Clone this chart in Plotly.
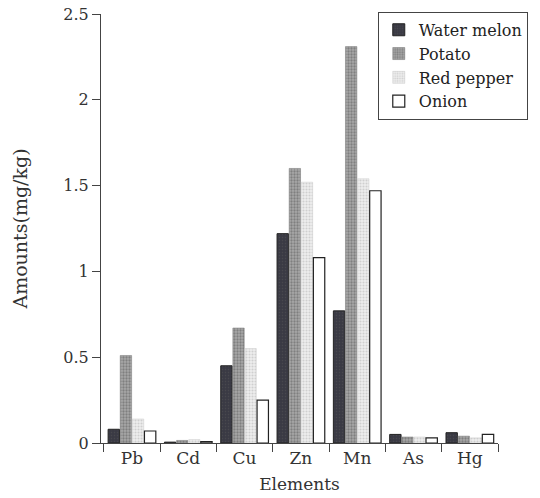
import plotly.graph_objects as go

elements = ["Pb", "Cd", "Cu", "Zn", "Mn", "As", "Hg"]
water_melon = [0.08, 0.005, 0.45, 1.22, 0.77, 0.05, 0.06]
potato = [0.51, 0.015, 0.67, 1.60, 2.31, 0.035, 0.04]
red_pepper = [0.14, 0.02, 0.55, 1.52, 1.54, 0.035, 0.03]
onion = [0.07, 0.008, 0.25, 1.08, 1.47, 0.03, 0.05]

y_ticks = [0, 0.5, 1, 1.5, 2, 2.5]
y_ticklabels = ["0", "0.5", "1", "1.5", "2", "2.5"]

FONT = "DejaVu Serif"

fig = go.Figure()
fig.add_trace(go.Bar(
    x=elements, y=water_melon, name="Water melon",
    marker=dict(color="#3a3a44", line=dict(color="#222", width=1),
                pattern=dict(shape=".", fgcolor="#555", size=3, solidity=0.2)),
))
fig.add_trace(go.Bar(
    x=elements, y=potato, name="Potato",
    marker=dict(color="#8c8c8c", line=dict(color="#777", width=0.5),
                pattern=dict(shape=".", fgcolor="#555", bgcolor="#a8a8a8", size=3, solidity=0.45)),
))
fig.add_trace(go.Bar(
    x=elements, y=red_pepper, name="Red pepper",
    marker=dict(color="#dcdcdc", line=dict(color="#ccc", width=0.5),
                pattern=dict(shape=".", fgcolor="#b0b0b0", bgcolor="#eeeeee", size=3, solidity=0.4)),
))
fig.add_trace(go.Bar(
    x=elements, y=onion, name="Onion",
    marker=dict(color="white", line=dict(color="#222", width=1.2)),
))

fig.update_layout(
    width=540, height=498,
    margin=dict(l=101, r=29, t=14, b=55),
    paper_bgcolor="white", plot_bgcolor="white",
    barmode="group", bargap=0.14, bargroupgap=0.06,
    font=dict(family=FONT, size=16, color="#333"),
    showlegend=True,
    legend=dict(
        x=1.075, xanchor="right", y=1.005, yanchor="top",
        bordercolor="#444", borderwidth=1, bgcolor="white",
        font=dict(family=FONT, size=16, color="#222"),
        traceorder="normal", itemwidth=30,
    ),
    xaxis=dict(
        title=dict(text="Elements", font=dict(size=17), standoff=10),
        range=[-0.55, 6.5],
        showline=True, linecolor="#444", linewidth=1,
        ticks="outside", ticklen=8, tickcolor="#444",
        tickson="boundaries", showgrid=False,
        tickfont=dict(size=17), automargin=False,
    ),
    yaxis=dict(
        title=dict(text="Amounts(mg/kg)", font=dict(size=19), standoff=30),
        range=[0, 2.5], tickvals=y_ticks, ticktext=y_ticklabels,
        showline=True, linecolor="#444", linewidth=1,
        ticks="outside", ticklen=8, tickcolor="#444",
        showgrid=False, zeroline=False,
        tickfont=dict(size=16), automargin=False,
    ),
)

fig.write_html("out.html")
